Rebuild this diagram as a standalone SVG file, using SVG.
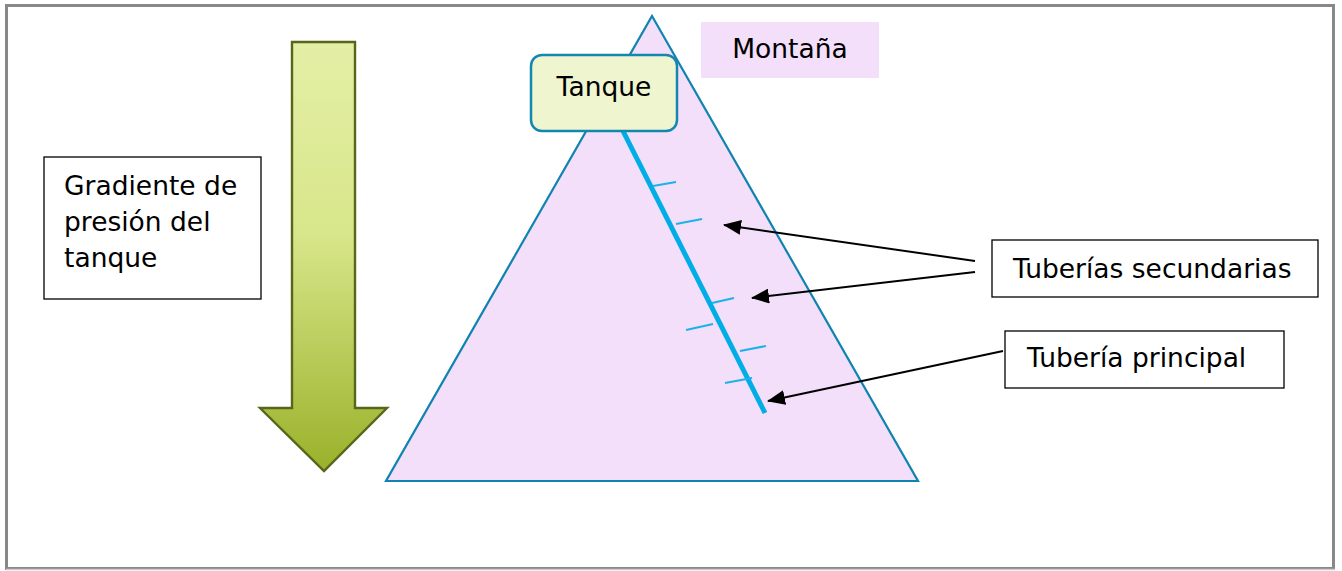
<svg xmlns="http://www.w3.org/2000/svg" width="1342" height="571" viewBox="0 0 1342 571">
<style>
.t{font-family:"DejaVu Sans","Verdana",sans-serif;font-size:26.5px;fill:#000}
.box{fill:#fff;stroke:#000;stroke-width:1.3}
.sec{stroke:#1AB2E8;stroke-width:2}
.arr{stroke:#000;stroke-width:2;fill:none;marker-end:url(#ah)}
</style>
<defs>
<linearGradient id="g" x1="0" y1="0" x2="0" y2="1">
<stop offset="0" stop-color="#E4EFA6"/>
<stop offset="0.45" stop-color="#D8E68A"/>
<stop offset="1" stop-color="#9AB12A"/>
</linearGradient>
<marker id="ah" markerWidth="18" markerHeight="15" refX="17" refY="7.5" orient="auto" markerUnits="userSpaceOnUse" viewBox="0 0 18 15">
<path d="M0,0 L18,7.5 L0,15 Z" fill="#000"/>
</marker>
</defs>
<rect x="0" y="0" width="1342" height="571" fill="#fff"/>
<rect x="6.5" y="5.5" width="1327" height="563" fill="none" stroke="#888" stroke-width="3"/>
<line x1="6" y1="569.5" x2="1335" y2="569.5" stroke="#ccc" stroke-width="1.5"/>

<g id="arrow-gradient">
<path d="M292,42 L355,42 L355,408 L387,408 L324,471 L260,408 L292,408 Z" fill="url(#g)" stroke="#56661A" stroke-width="2.4"/>
</g>

<g id="gradiente">
<rect class="box" x="44" y="157" width="217" height="142"/>
<text class="t" x="64" y="195">Gradiente de</text>
<text class="t" x="64" y="231">presión del</text>
<text class="t" x="64" y="267">tanque</text>
</g>

<g id="montana">
<polygon points="652,16 918,481 386,481" fill="#F3DFFA" stroke="#1083B0" stroke-width="2.2" stroke-linejoin="miter"/>
</g>

<g id="montana-label">
<rect x="701" y="22" width="178" height="56" fill="#F3DFFA"/>
<text class="t" x="790" y="58" text-anchor="middle">Montaña</text>
</g>

<g id="tuberias">
<line x1="623" y1="131" x2="765" y2="413" stroke="#00ADE6" stroke-width="5"/>
<line class="sec" x1="653" y1="186" x2="676" y2="182"/>
<line class="sec" x1="676" y1="224" x2="702" y2="219"/>
<line class="sec" x1="712" y1="303" x2="734" y2="298"/>
<line class="sec" x1="686" y1="330" x2="713" y2="324"/>
<line class="sec" x1="740" y1="351" x2="766" y2="346"/>
<line class="sec" x1="725" y1="383" x2="752" y2="378"/>
</g>

<g id="tanque">
<rect x="531" y="55" width="146" height="76" rx="11" fill="#EEF5CF" stroke="#1487B0" stroke-width="2.5"/>
<text class="t" x="604" y="96" text-anchor="middle">Tanque</text>
</g>

<g id="secundarias">
<rect class="box" x="992" y="240" width="326" height="57"/>
<text class="t" x="1013" y="278">Tuberías secundarias</text>
</g>

<g id="principal">
<rect class="box" x="1005" y="331" width="279" height="57"/>
<text class="t" x="1027" y="367">Tubería principal</text>
</g>

<g id="connectors">
<line class="arr" x1="975" y1="261" x2="724" y2="225"/>
<line class="arr" x1="975" y1="272" x2="752" y2="298"/>
<line class="arr" x1="1003" y1="351" x2="768" y2="401"/>
</g>
</svg>
